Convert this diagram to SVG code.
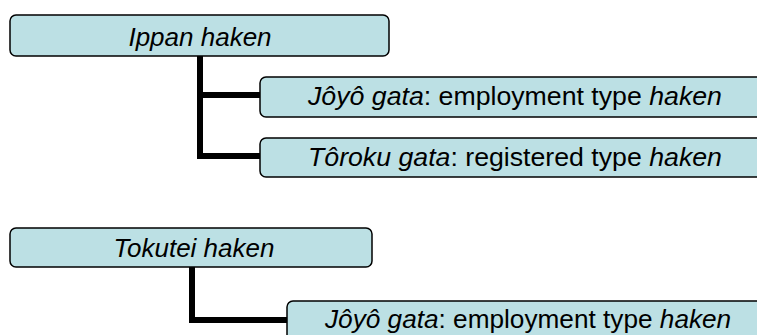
<svg xmlns="http://www.w3.org/2000/svg" width="757" height="335" viewBox="0 0 757 335">
<style>
.box{fill:#bce0e4;stroke:#000;stroke-width:1.5}
.t{font-family:"Liberation Sans",Arial,sans-serif;fill:#000}
.i{font-style:italic}
.con{fill:none;stroke:#000;stroke-width:6}
</style>
<rect width="757" height="335" fill="#fff"/>
<g id="connectors">
<path class="con" d="M200,56 V156 H261 M200,95 H261"/>
<path class="con" d="M192,267 V320 H288"/>
</g>
<g id="ippan">
<rect class="box" x="10" y="15" width="379" height="41" rx="6"/>
<text class="t i" x="200" y="46" font-size="26" text-anchor="middle">Ippan haken</text>
</g>
<g id="ippan-joyo">
<rect class="box" x="260" y="77" width="520" height="40" rx="6"/>
<text class="t" x="308" y="104.5" font-size="26.7"><tspan class="i">Jôyô gata</tspan>: employment type <tspan class="i">haken</tspan></text>
</g>
<g id="ippan-toroku">
<rect class="box" x="260" y="138" width="520" height="39" rx="6"/>
<text class="t" x="308" y="166" font-size="26.7"><tspan class="i">Tôroku gata</tspan>: registered type <tspan class="i">haken</tspan></text>
</g>
<g id="tokutei">
<rect class="box" x="10" y="228" width="362" height="39" rx="6"/>
<text class="t i" x="194" y="256.5" font-size="26" text-anchor="middle">Tokutei haken</text>
</g>
<g id="tokutei-joyo">
<rect class="box" x="287" y="301" width="520" height="50" rx="6"/>
<text class="t" x="325" y="327.5" font-size="26.2"><tspan class="i">Jôyô gata</tspan>: employment type <tspan class="i">haken</tspan></text>
</g>
</svg>
